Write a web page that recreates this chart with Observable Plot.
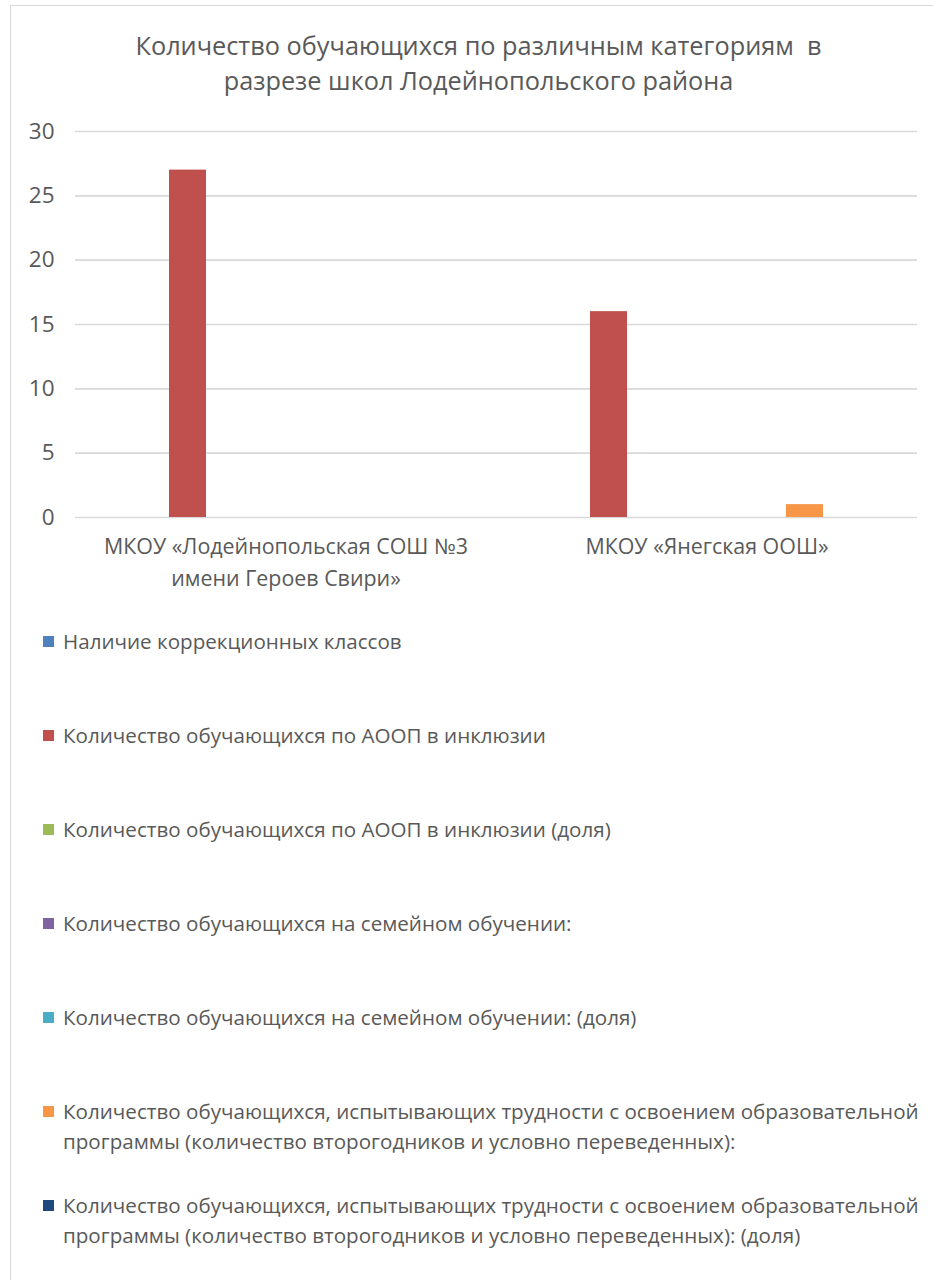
<!DOCTYPE html>
<html>
<head>
<meta charset="utf-8">
<script src="https://cdn.jsdelivr.net/npm/d3@7"></script>
<script src="https://cdn.jsdelivr.net/npm/@observablehq/plot@0.6"></script>
<style>
  html, body { margin: 0; padding: 0; background: #fff; }
  #wrap { position: relative; width: 933px; height: 1280px; overflow: hidden; font-family: "Open Sans", sans-serif; color: #595959; }
  #frame { position: absolute; left: 10px; top: 5px; width: 940px; height: 1300px; border: 1.5px solid #d9d9d9; box-sizing: border-box; }
  #title { position: absolute; left: 0; width: 957px; top: 28px; text-align: center; font-size: 25.3px; line-height: 35px; white-space: pre; }
  #chart { position: absolute; left: 0; top: 100px; }
  .lg { position: absolute; left: 43px; white-space: nowrap; }
  .lg .sw { position: absolute; left: 0; width: 11px; height: 11px; }
  .lg .tx { position: absolute; left: 20px; top: 0; font-size: 20.6px; line-height: 30px; transform-origin: 0 0; white-space: pre; }
</style>
</head>
<body>
<div id="wrap">
  <div id="frame"></div>
  <div id="title"></div>
  <div id="chart"></div>
  <div id="legend"></div>
</div>
<script>
const titleLines = ["Количество обучающихся по различным категориям  в", "разрезе школ Лодейнопольского района"];

const schools = [
  "МКОУ «Лодейнопольская СОШ №3 имени Героев Свири»",
  "МКОУ «Янегская ООШ»"
];
const schoolLabels = [
  "МКОУ «Лодейнопольская СОШ №3\nимени Героев Свири»",
  "МКОУ «Янегская ООШ»"
];

const series = [
  "Наличие коррекционных классов",
  "Количество обучающихся по АООП в инклюзии",
  "Количество обучающихся по АООП в инклюзии (доля)",
  "Количество обучающихся на семейном обучении:",
  "Количество обучающихся на семейном обучении: (доля)",
  "Количество обучающихся, испытывающих трудности с освоением образовательной\nпрограммы (количество второгодников и условно переведенных):",
  "Количество обучающихся, испытывающих трудности с освоением образовательной\nпрограммы (количество второгодников и условно переведенных): (доля)"
];

const colors = ["#4f81bd", "#c0504d", "#9bbb59", "#8064a2", "#4bacc6", "#f79646", "#1f497d"];

// values per school, in series order
const valuesSchool1 = [0, 27, 0, 0, 0, 0, 0];
const valuesSchool2 = [0, 16, 0, 0, 0, 1, 0];

const yTicks = [0, 5, 10, 15, 20, 25, 30];

const data = [];
[valuesSchool1, valuesSchool2].forEach((vals, si) => {
  vals.forEach((v, k) => data.push({school: schools[si], series: series[k], value: v}));
});

document.getElementById("title").textContent = titleLines.join("\n");

const labelOf = new Map(schools.map((s, i) => [s, schoolLabels[i]]));

const chart = Plot.plot({
  width: 933,
  height: 500,
  marginTop: 31,
  marginBottom: 83,
  marginLeft: 74,
  marginRight: 16,
  style: {fontFamily: "'Open Sans', sans-serif", color: "#595959", background: "transparent"},
  fx: {domain: schools, paddingInner: 0, paddingOuter: 0, label: null},
  x: {domain: series, paddingInner: 0.236, paddingOuter: 0.854, axis: null},
  y: {domain: [0, 30], label: null},
  color: {domain: series, range: colors},
  marks: [
    Plot.gridY(yTicks, {stroke: "#d9d9d9", strokeOpacity: 1, strokeWidth: 1.6}),
    Plot.axisY(yTicks, {tickSize: 0, tickPadding: 21, fontSize: 22.5, label: null}),
    Plot.axisFx({anchor: "bottom", tickSize: 0, tickPadding: 14, fontSize: 21.4, lineHeight: 1.5, label: null, tickFormat: d => labelOf.get(d)}),
    Plot.barY(data.filter(d => d.value > 0), {fx: "school", x: "series", y: "value", fill: "series"})
  ]
});
document.getElementById("chart").appendChild(chart);

// legend
const legend = document.getElementById("legend");
const rowCenters0 = 641, rowStep = 94, maxTextWidth = 857;
series.forEach((name, i) => {
  const row = document.createElement("div");
  row.className = "lg";
  const cy = rowCenters0 + i * rowStep;
  row.style.top = (cy - 15) + "px";
  const sw = document.createElement("div");
  sw.className = "sw";
  sw.style.background = colors[i];
  sw.style.top = (15 - 5.5) + "px";
  const tx = document.createElement("div");
  tx.className = "tx";
  tx.textContent = name;
  row.appendChild(sw);
  row.appendChild(tx);
  legend.appendChild(row);
  const w = tx.getBoundingClientRect().width;
  if (w > maxTextWidth) tx.style.transform = `scaleX(${maxTextWidth / w})`;
});
</script>
</body>
</html>
